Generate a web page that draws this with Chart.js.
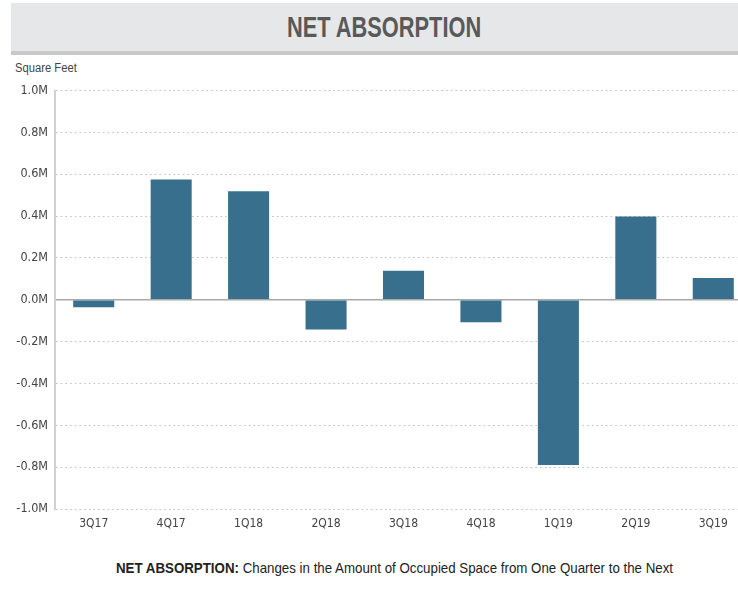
<!DOCTYPE html>
<html>
<head>
<meta charset="utf-8">
<script src="https://cdn.jsdelivr.net/npm/chart.js@4"></script>
<style>
  html, body { margin: 0; padding: 0; width: 738px; height: 594px; overflow: hidden; background: #fff; }
  body { position: relative; font-family: 'Liberation Sans', Arial, sans-serif; }
  .header {
    position: absolute; left: 11px; top: 3px; width: 727px; height: 48px;
    background: #e6e7e8; border-bottom: 4px solid #c9c9c9;
  }
  .fit { position: absolute; white-space: nowrap; transform-origin: 0 0; }
  #title { top: 10px; font-size: 30px; line-height: 34px; font-weight: bold; color: #595959; }
  #unit { top: 61px; font-size: 12.5px; line-height: 14px; color: #444; }
  #caption { top: 559px; font-size: 15px; line-height: 18px; color: #222; }
  .chart-box { position: absolute; left: 0; top: 76px; width: 752px; height: 465px; }
</style>
</head>
<body>
<div class="header"></div>
<div class="fit" id="title" data-x="287" data-w="194">NET ABSORPTION</div>
<div class="fit" id="unit" data-x="15" data-w="62">Square Feet</div>
<div class="fit" id="caption" data-x="116" data-w="557"><b>NET ABSORPTION:</b> Changes in the Amount of Occupied Space from One Quarter to the Next</div>
<div class="chart-box"><canvas id="absorptionChart" width="752" height="465"></canvas></div>

<script>
// quarters and net absorption (square feet)
const quarters = ['3Q17', '4Q17', '1Q18', '2Q18', '3Q18', '4Q18', '1Q19', '2Q19', '3Q19'];
const netAbsorption = [-36000, 575000, 518000, -142000, 138000, -108000, -790000, 398000, 104000];

const yMin = -1000000;
const yMax = 1000000;
const yStep = 200000;

// squeeze html text to look like the narrow face of the original
document.querySelectorAll('.fit').forEach((el) => {
    const w = el.offsetWidth;
    el.style.left = el.dataset.x + 'px';
    el.style.transform = 'scaleX(' + (el.dataset.w / w) + ')';
});

const fontFamily = "'DejaVu Sans Condensed', 'Liberation Sans', sans-serif";

const ctx = document.getElementById('absorptionChart').getContext('2d');
new Chart(ctx, {
    type: 'bar',
    data: {
        labels: quarters,
        datasets: [{
            data: netAbsorption,
            backgroundColor: '#376f8c',
            borderWidth: 0,
            barPercentage: 0.53,
            categoryPercentage: 1
        }]
    },
    options: {
        responsive: false,
        animation: false,
        layout: { padding: { top: 6, right: 0, left: 0, bottom: 0 } },
        plugins: { legend: { display: false }, tooltip: { enabled: false } },
        scales: {
            x: {
                grid: { display: false, drawTicks: false },
                border: { display: false },
                ticks: { color: '#444', font: { family: fontFamily, size: 12 }, padding: 8, maxRotation: 0 },
                afterFit: (scale) => { scale.height = 32; }
            },
            y: {
                min: yMin,
                max: yMax,
                grid: {
                    drawTicks: false,
                    color: (c) => c.tick && c.tick.value === 0 ? '#a8a8a8' : '#bdbdbd',
                    lineWidth: (c) => c.tick && c.tick.value === 0 ? 1.5 : 1
                },
                border: {
                    color: '#d0d0d0',
                    width: 2,
                    dash: (c) => c.tick && c.tick.value === 0 ? [] : [1.5, 3.2]
                },
                ticks: {
                    stepSize: yStep,
                    color: '#444',
                    font: { family: fontFamily, size: 12.5 },
                    padding: 7,
                    callback: (v) => (v / 1000000).toFixed(1) + 'M'
                },
                afterFit: (scale) => { scale.width = 55; }
            }
        }
    }
});
</script>
</body>
</html>
